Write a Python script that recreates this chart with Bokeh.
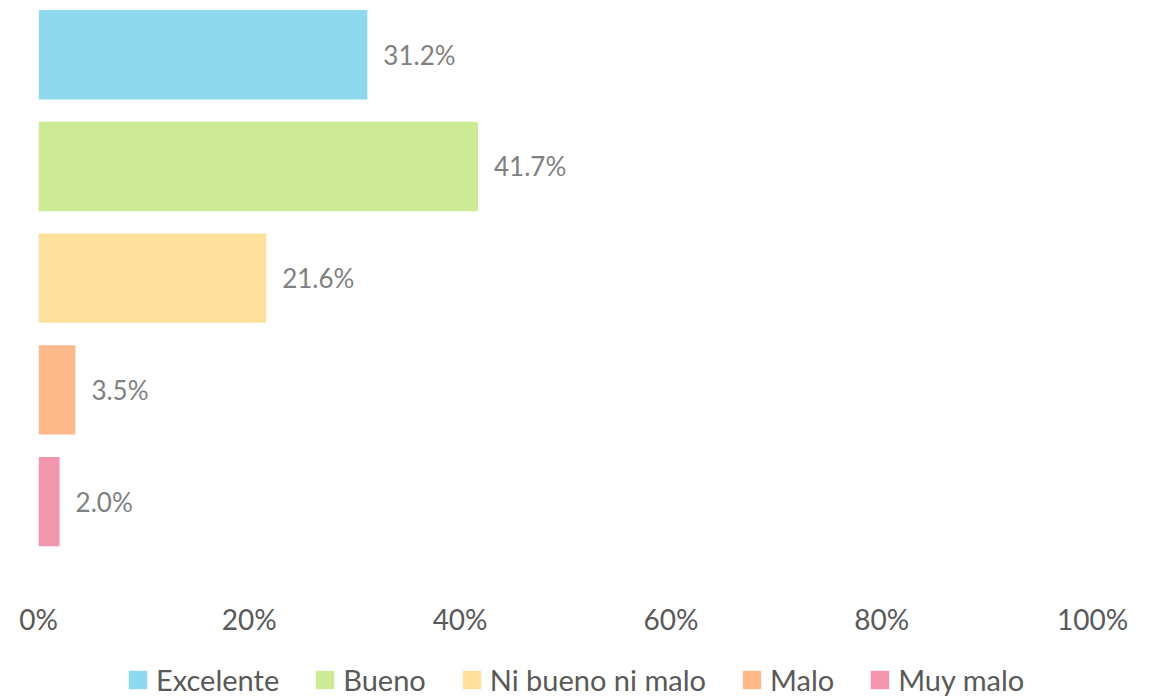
from bokeh.plotting import figure
from bokeh.models import (ColumnDataSource, Range1d, FixedTicker, PrintfTickFormatter,
                          Legend, LegendItem, LinearAxis)
from bokeh.core.properties import value
from bokeh.embed import file_html
from bokeh.resources import INLINE

categories = ["Excelente", "Bueno", "Ni bueno ni malo", "Malo", "Muy malo"]
values = [31.2, 41.7, 21.6, 3.5, 2.0]
colors = ["#8ED9EE", "#CCEB94", "#FDE09B", "#FDB989", "#F196AC"]
x_ticks = [0, 20, 40, 60, 80, 100]

FONT = "Lato"

src = ColumnDataSource(dict(
    cat=categories,
    y=list(range(len(categories))),
    val=values,
    color=colors,
    label=[f"{v:.1f}%" for v in values],
))

p = figure(
    frame_width=1054, frame_height=688,
    x_range=Range1d(0, 100), y_range=Range1d(5.745, -0.4145),
    output_backend="svg", toolbar_location=None,
    y_axis_location=None, x_axis_location=None,
    min_border_left=38, min_border_right=40, min_border_top=8, min_border_bottom=0,
)
p.outline_line_color = None
p.xgrid.visible = False
p.ygrid.visible = False

r = p.hbar(y="y", left=0, right="val", height=0.8, fill_color="color",
           line_color=None, source=src)

p.text(x="val", y="y", text="label", source=src, x_offset=16,
       text_baseline="middle", text_align="left",
       text_font=value(FONT), text_font_size="26px", text_color="#808080")

xa = LinearAxis(
    ticker=FixedTicker(ticks=x_ticks),
    formatter=PrintfTickFormatter(format="%d%%"),
    axis_line_color=None, major_tick_line_color=None, minor_tick_line_color=None,
    major_tick_out=0, major_tick_in=0,
    major_label_standoff=-95,
    major_label_text_font=FONT, major_label_text_font_size="28px",
    major_label_text_color="#595959",
)
p.add_layout(xa, "below")

legend = Legend(
    items=[LegendItem(label=c, renderers=[r], index=i) for i, c in enumerate(categories)],
    orientation="horizontal", location=(88, -1),
    glyph_width=23, glyph_height=23, label_standoff=7, spacing=34,
    label_text_font=FONT, label_text_font_size="29px", label_text_color="#595959",
    border_line_color=None, background_fill_alpha=0,
    padding=0, margin=0,
)
p.add_layout(legend, "center")

open("out.html", "w").write(file_html(p, INLINE))
